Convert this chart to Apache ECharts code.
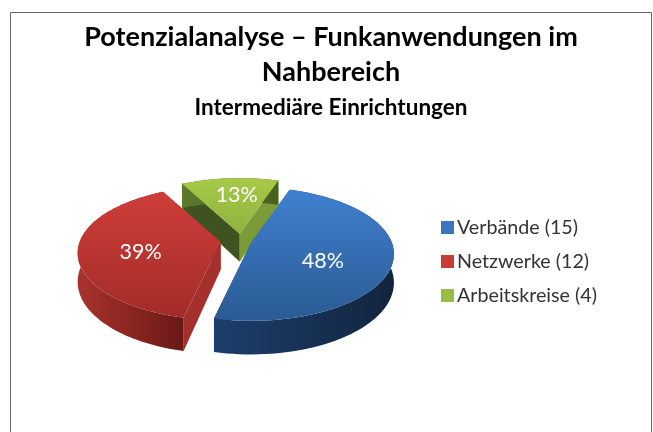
<!DOCTYPE html>
<html><head><meta charset="utf-8">
<style>html,body{margin:0;padding:0;background:#fff}#c{width:653px;height:432px}</style>
<script src="https://cdn.jsdelivr.net/npm/echarts@6/dist/echarts.min.js"></script>
</head><body><div id="c"></div>
<script>
const categories = ['Verbände (15)', 'Netzwerke (12)', 'Arbeitskreise (4)'];
const values = [15, 12, 4];
const percentLabels = ['48%', '39%', '13%'];

const FONT = 'Lato, "Open Sans", sans-serif';
const G = echarts.graphic.LinearGradient;
const geo = {cx: 236, cy: 241, a: 141, b: 65, p: 0.166, depth: 28, explode: 0.11, start: 18.5};
const nudgeX = [0, 0, 5];
const labelPos = [[72, 18], [-80, 10], [-3, -39]];
const looks = [
  {legend: '#3a76be', top: ['#3f80cf', '#2b5a94'], wall: ['#1d3e6c', '#12253e'], f1: '#24497a', f2: '#1d3e6c'},
  {legend: '#c53c38', top: ['#cf3d39', '#a22c28'], wall: ['#a9322c', '#6a1915'], f1: '#a3302a', f2: '#a3302a'},
  {legend: '#9bbb47', top: ['#a6ca47', '#8fb23e'], wall: ['#5c7a2c', '#46601f'], f1: '#3f5320', f2: '#7a9b38'}
];
const total = values.reduce((s, v) => s + v, 0);

function project(apex, theta, r) {
  const t = theta * Math.PI / 180;
  const s = 1 / (1 + geo.p * r * Math.cos(t));
  return {x: apex.x + geo.a * r * Math.sin(t) * s, y: apex.y - geo.b * r * Math.cos(t) * s, s: s};
}
function renderSlice(idx) {
  return function (params, api) {
    const val = api.value(0);
    let before = 0;
    for (let i = 0; i < idx; i++) before += values[i];
    const t0 = geo.start + before / total * 360;
    const t1 = t0 + val / total * 360;
    const mid = (t0 + t1) / 2 * Math.PI / 180;
    const apex = {
      x: geo.cx + nudgeX[idx] + geo.a * geo.explode * Math.sin(mid),
      y: geo.cy - geo.b * geo.explode * Math.cos(mid)
    };
    const rim = [];
    for (let k = 0; k <= 80; k++) rim.push(project(apex, t0 + (t1 - t0) * k / 80, 1));
    const down = p => [p.x, p.y + geo.depth * p.s];
    const up = p => [p.x, p.y];
    const first = rim[0], last = rim[rim.length - 1];
    const look = looks[idx];
    const poly = (points, fill) => ({type: 'polygon', shape: {points: points}, style: {fill: fill}});
    const wall = rim.map(up).concat(rim.slice().reverse().map(down));
    const apexLow = [apex.x, apex.y + geo.depth];
    const children = [
      poly([up(apex), up(first), down(first), apexLow], look.f1),
      poly([up(apex), up(last), down(last), apexLow], look.f2),
      poly(wall, new G(0, 0, 1, 0, [{offset: 0, color: look.wall[0]}, {offset: 1, color: look.wall[1]}])),
      poly([up(apex)].concat(rim.map(up)), new G(0, 0, 0, 1, [{offset: 0, color: look.top[0]}, {offset: 1, color: look.top[1]}])),
      {type: 'text', style: {
        x: apex.x + labelPos[idx][0], y: apex.y + labelPos[idx][1],
        text: percentLabels[idx], fill: '#fff', font: '21.5px ' + FONT, align: 'center', verticalAlign: 'middle'
      }}
    ];
    return {type: 'group', children: children};
  };
}
const drawOrder = [2, 1, 0];
const series = categories.map((name, i) => ({
  type: 'custom', name: name, coordinateSystem: 'none',
  data: [[values[i]]], renderItem: renderSlice(i),
  z: 2 + drawOrder.indexOf(i), color: looks[i].legend, animation: false, silent: true
}));
const chart = echarts.init(document.getElementById('c'), null, {renderer: 'canvas'});
chart.setOption({
  animation: false,
  backgroundColor: '#fff',
  graphic: [{type: 'polyline', z: 0, shape: {points: [[10.5, 440], [10.5, 12.5], [651.5, 12.5], [651.5, 440]]},
    style: {stroke: '#666', lineWidth: 1, fill: null}}],
  title: [
    {text: 'Potenzialanalyse – Funkanwendungen im\nNahbereich', left: 326, top: 15, textAlign: 'center',
      textStyle: {fontFamily: FONT, fontWeight: 'bold', fontSize: 27, lineHeight: 35, color: '#000'}},
    {text: 'Intermediäre Einrichtungen', left: 326, top: 91, textAlign: 'center',
      textStyle: {fontFamily: FONT, fontWeight: 'bold', fontSize: 22.5, color: '#000'}}
  ],
  legend: {orient: 'vertical', left: 436, top: 211, itemWidth: 13, itemHeight: 13, itemGap: 11,
    icon: 'rect', data: categories, selectedMode: false,
    textStyle: {fontFamily: FONT, fontSize: 19.7, color: '#333', padding: [0, 0, 0, -2], lineHeight: 23}},
  series: series
});
</script></body></html>
